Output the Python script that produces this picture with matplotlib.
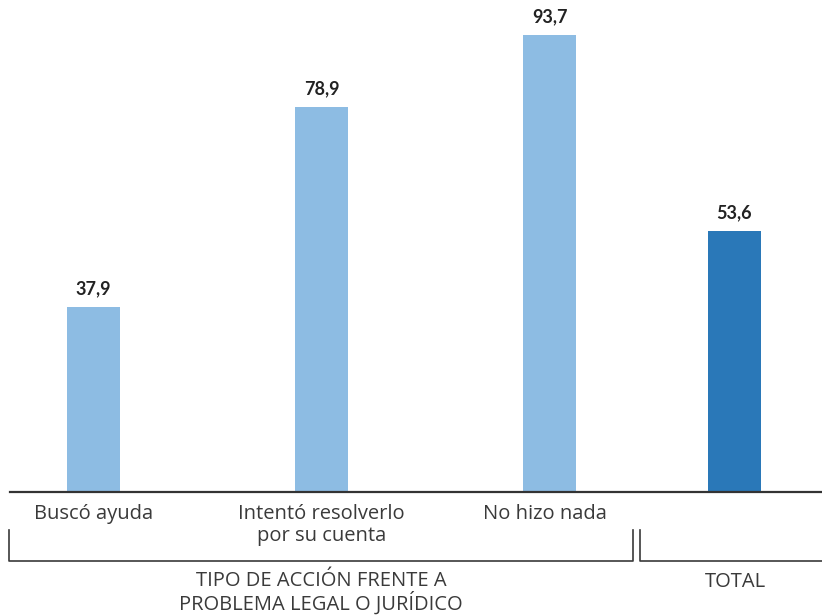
import matplotlib
matplotlib.use('Agg')
import matplotlib.pyplot as plt

# datos
categorias = ['Buscó ayuda', 'Intentó resolverlo\npor su cuenta', 'No hizo nada', 'TOTAL']
valores = [37.9, 78.9, 93.7, 53.6]
etiquetas = ['37,9', '78,9', '93,7', '53,6']
grupo = 'TIPO DE ACCIÓN FRENTE A\nPROBLEMA LEGAL O JURÍDICO'

posiciones = [0, 1, 2, 2.811]
colores = ['#8DBCE3', '#8DBCE3', '#8DBCE3', '#2A78B8']

plt.rcParams['font.family'] = ['Open Sans', 'DejaVu Sans']

W, H = 822, 615
fig = plt.figure(figsize=(W / 100, H / 100), dpi=100)

# ejes principales (barras)
ax = fig.add_axes([0, 123 / H, 1, 1 - 123 / H])
ax.bar(posiciones, valores, width=0.232, color=colores, zorder=2)
ax.set_xlim(-93.5 / 228, (W - 93.5) / 228)
ax.set_ylim(0, 492 / 4.877)
for x, v, t in zip(posiciones, valores, etiquetas):
    ax.annotate(t, (x, v), xytext=(0, 7), textcoords='offset points',
                ha='center', va='bottom', fontsize=13, fontweight='bold',
                color='#222222', family=['Lato', 'DejaVu Sans'])
ax.axhline(0, xmin=10 / W, xmax=1, color='#333333', lw=1.6, zorder=3, clip_on=False)
for s in ax.spines.values():
    s.set_visible(False)
ax.set_xticks([])
ax.set_yticks([])

# capa en pixeles para corchetes y textos
ov = fig.add_axes([0, 0, 1, 1])
ov.set_xlim(0, W)
ov.set_ylim(H, 0)
ov.axis('off')
ov.patch.set_alpha(0)

gris = '#3a3a3a'
ov.plot([9, 9, 633, 633], [530, 561, 561, 530], color=gris, lw=1.2)
ov.plot([640, 640, W + 2], [530, 561, 561], color=gris, lw=1.2)

xs_lab = [93.5, 321.5, 545, 735]
for x, c in zip(xs_lab[:3], categorias[:3]):
    ov.text(x, 504, c, ha='center', va='top', fontsize=14.5, color=gris,
            linespacing=1.15)
ov.text(321, 571, grupo, ha='center', va='top', fontsize=14.5, color=gris, linespacing=1.0)
ov.text(xs_lab[3], 572, categorias[3], ha='center', va='top', fontsize=14.5, color=gris)

fig.savefig('out.png', dpi=100)
